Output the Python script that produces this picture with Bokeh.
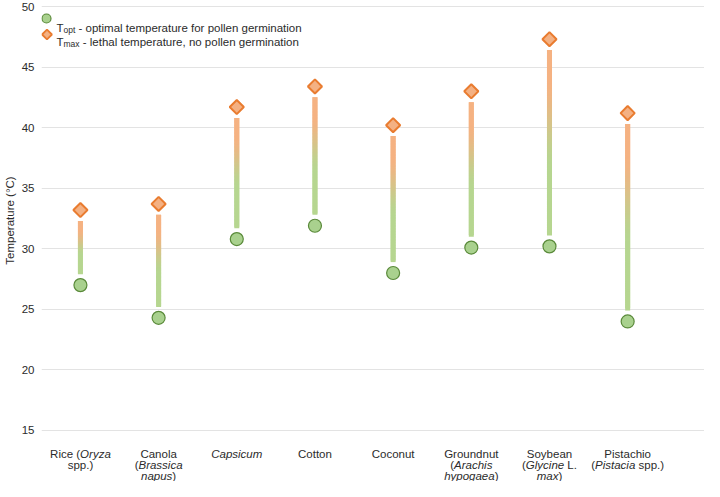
import numpy as np
from bokeh.plotting import figure
from bokeh.layouts import column
from bokeh.models import ColumnDataSource, Label, FixedTicker, Range1d
from bokeh.core.properties import value
from bokeh.embed import file_html
from bokeh.resources import INLINE

# ---------------- data ----------------
crops = ["Rice", "Canola", "Capsicum", "Cotton", "Coconut", "Groundnut", "Soybean", "Pistachio"]
t_opt = [27.0, 24.3, 30.8, 31.9, 28.0, 30.1, 30.2, 24.0]
t_max = [33.2, 33.7, 41.7, 43.4, 40.2, 43.0, 47.3, 41.2]
y_ticks = [15, 20, 25, 30, 35, 40, 45, 50]

# tick labels: lines of (text, style) pieces
tick_labels = [
    [[("Rice (", "normal"), ("Oryza", "italic")], [("spp.)", "normal")]],
    [[("Canola", "normal")], [("(", "normal"), ("Brassica", "italic")], [("napus", "italic"), (")", "normal")]],
    [[("Capsicum", "italic")]],
    [[("Cotton", "normal")]],
    [[("Coconut", "normal")]],
    [[("Groundnut", "normal")], [("(", "normal"), ("Arachis", "italic")], [("hypogaea", "italic"), (")", "normal")]],
    [[("Soybean", "normal")], [("(", "normal"), ("Glycine", "italic"), (" L.", "normal")], [("max", "italic"), (")", "normal")]],
    [[("Pistachio", "normal")], [("(", "normal"), ("Pistacia", "italic"), (" spp.)", "normal")]],
]
legend_opt = ("T", "opt", "- optimal temperature for pollen germination")
legend_max = ("T", "max", "- lethal temperature, no pollen germination")

# ---------------- style ----------------
FONT = "Liberation Sans"
FS = 11.5
SUB_FS = 8.5
TEXT_COLOR = "#2b2b2b"
GREEN_FILL = "#a9d18e"
GREEN_LINE = "#5a8a3a"
ORANGE_FILL = "#f4b183"
ORANGE_LINE = "#e97c30"
STEM_GREEN = np.array([182, 214, 144])
STEM_ORANGE = np.array([245, 178, 130])

W = 704
H_TOP, H_BOT = 440, 41
BORDER_L = 40
FRAME_W = W - BORDER_L
X_START, X_END = -0.498, 7.983
Y_START, Y_END = 14.174, 50.495
PX_X = FRAME_W / (X_END - X_START)
PX_Y = H_TOP / (Y_END - Y_START)

# Arial / Liberation Sans advance widths (1/1000 em)
CW = {' ': 278, '(': 333, ')': 333, '.': 278, ',': 278, '-': 333,
      'A': 667, 'B': 667, 'C': 722, 'G': 778, 'L': 556, 'O': 778, 'P': 667,
      'R': 722, 'S': 667, 'T': 611,
      'a': 556, 'b': 556, 'c': 500, 'd': 556, 'e': 556, 'f': 278, 'g': 556,
      'h': 556, 'i': 222, 'l': 222, 'm': 833, 'n': 556, 'o': 556, 'p': 556,
      'r': 333, 's': 500, 't': 278, 'u': 556, 'x': 500, 'y': 500, 'z': 500}


def tw(s, size):
    return sum(CW.get(ch, 556) for ch in s) * size / 1000.0


x_range = Range1d(X_START, X_END)

p = figure(width=W, height=H_TOP, output_backend="svg", toolbar_location=None,
           x_range=x_range, y_range=Range1d(Y_START, Y_END),
           x_axis_location=None, min_border_left=BORDER_L, min_border_right=0,
           min_border_top=0, min_border_bottom=0)
p.outline_line_color = None
p.border_fill_color = "white"
p.xgrid.visible = False
p.yaxis.ticker = FixedTicker(ticks=y_ticks)
p.ygrid.ticker = FixedTicker(ticks=y_ticks)
p.ygrid.grid_line_color = "#e3e3e3"
p.ygrid.grid_line_width = 1
p.yaxis.axis_line_color = None
p.yaxis.major_tick_line_color = None
p.yaxis.minor_tick_line_color = None
p.yaxis.major_tick_out = 0
p.yaxis.major_tick_in = 0
p.yaxis.minor_tick_out = 0
p.yaxis.major_label_text_font = FONT
p.yaxis.major_label_text_font_size = f"{FS}px"
p.yaxis.major_label_text_color = TEXT_COLOR
p.yaxis.major_label_standoff = 7
p.yaxis.axis_label = "Temperature (°C)"
p.yaxis.axis_label_text_font = FONT
p.yaxis.axis_label_text_font_size = f"{FS}px"
p.yaxis.axis_label_text_font_style = "normal"
p.yaxis.axis_label_text_color = TEXT_COLOR
p.yaxis.axis_label_standoff = 3

# ---------------- gradient stems ----------------
GAP = 0.9
NSEG = 80
sx0, sy0, sy1, scol = [], [], [], []
for i, (lo, hi) in enumerate(zip(t_opt, t_max)):
    a, b = lo + GAP, hi - GAP
    edges = np.linspace(a, b, NSEG + 1)
    for k in range(NSEG):
        t = (k + 0.5) / NSEG
        u = np.clip((t - 0.35) / (0.85 - 0.35), 0, 1)
        u = u * u * (3 - 2 * u)
        c = (1 - u) * STEM_GREEN + u * STEM_ORANGE
        sx0.append(i)
        sy0.append(edges[k])
        sy1.append(edges[min(k + 2, NSEG)])
        scol.append("#%02x%02x%02x" % tuple(int(round(v)) for v in c))
p.segment(x0="x", y0="y0", x1="x", y1="y1", color="c", line_width=5, line_cap="butt",
          source=ColumnDataSource(dict(x=sx0, y0=sy0, y1=sy1, c=scol)))

src = ColumnDataSource(dict(x=list(range(len(crops))), crop=crops, t_opt=t_opt, t_max=t_max))
p.scatter("x", "t_opt", source=src, marker="circle", size=13,
          fill_color=GREEN_FILL, line_color=GREEN_LINE, line_width=1.2)
p.scatter("x", "t_max", source=src, marker="square", angle=np.pi / 4, size=10,
          fill_color=ORANGE_FILL, line_color=ORANGE_LINE, line_width=2)

# ---------------- legend ----------------
p.scatter(x=[X_START + 5.0 / PX_X], y=[Y_END - 18 / PX_Y], marker="circle", size=9,
          fill_color=GREEN_FILL, line_color=GREEN_LINE, line_width=1.2)
p.scatter(x=[X_START + 5.5 / PX_X], y=[Y_END - 34 / PX_Y], marker="square", angle=np.pi / 4,
          size=7, fill_color=ORANGE_FILL, line_color=ORANGE_LINE, line_width=1.8)

for (main, sub, rest), base in ((legend_opt, 27.0), (legend_max, 41.0)):
    x0 = 15.0
    p.add_layout(Label(x=X_START, y=Y_END, x_offset=x0, y_offset=-base, text=main,
                       text_font=FONT, text_font_size=f"{FS}px", text_color=TEXT_COLOR,
                       text_baseline="alphabetic"))
    x1 = x0 + tw(main, FS)
    p.add_layout(Label(x=X_START, y=Y_END, x_offset=x1, y_offset=-(base + 2.5), text=sub,
                       text_font=FONT, text_font_size=f"{SUB_FS}px", text_color=TEXT_COLOR,
                       text_baseline="alphabetic"))
    x2 = x1 + tw(sub, SUB_FS) + tw(" ", FS)
    p.add_layout(Label(x=X_START, y=Y_END, x_offset=x2, y_offset=-base, text=rest,
                       text_font=FONT, text_font_size=f"{FS}px", text_color=TEXT_COLOR,
                       text_baseline="alphabetic"))

# ---------------- category labels (strip below the plot) ----------------
q = figure(width=W, height=H_BOT, output_backend="svg", toolbar_location=None,
           x_range=x_range, y_range=Range1d(H_BOT, 0),
           x_axis_location=None, y_axis_location=None,
           min_border_left=BORDER_L, min_border_right=0, min_border_top=0, min_border_bottom=0)
q.outline_line_color = None
q.grid.visible = False

BASELINES = [13.5, 24.5, 35.0]
rows = {"normal": dict(x=[], y=[], text=[], xo=[]),
        "italic": dict(x=[], y=[], text=[], xo=[])}
for i, lines in enumerate(tick_labels):
    for j, pieces in enumerate(lines):
        total = sum(tw(s, FS) for s, _ in pieces)
        off = -total / 2
        for s, style in pieces:
            stripped = s.lstrip(" ")
            lead = tw(s[:len(s) - len(stripped)], FS)
            r = rows[style]
            r["x"].append(i)
            r["y"].append(BASELINES[j])
            r["text"].append(stripped)
            r["xo"].append(off + lead)
            off += tw(s, FS)
for style, r in rows.items():
    q.text(x="x", y="y", text="text", x_offset="xo", source=ColumnDataSource(r),
           text_font=value(FONT), text_font_size=f"{FS}px", text_font_style=style,
           text_color=TEXT_COLOR, text_align="left", text_baseline="alphabetic")

layout = column(p, q, spacing=0)
open("out.html", "w").write(file_html(layout, INLINE))
